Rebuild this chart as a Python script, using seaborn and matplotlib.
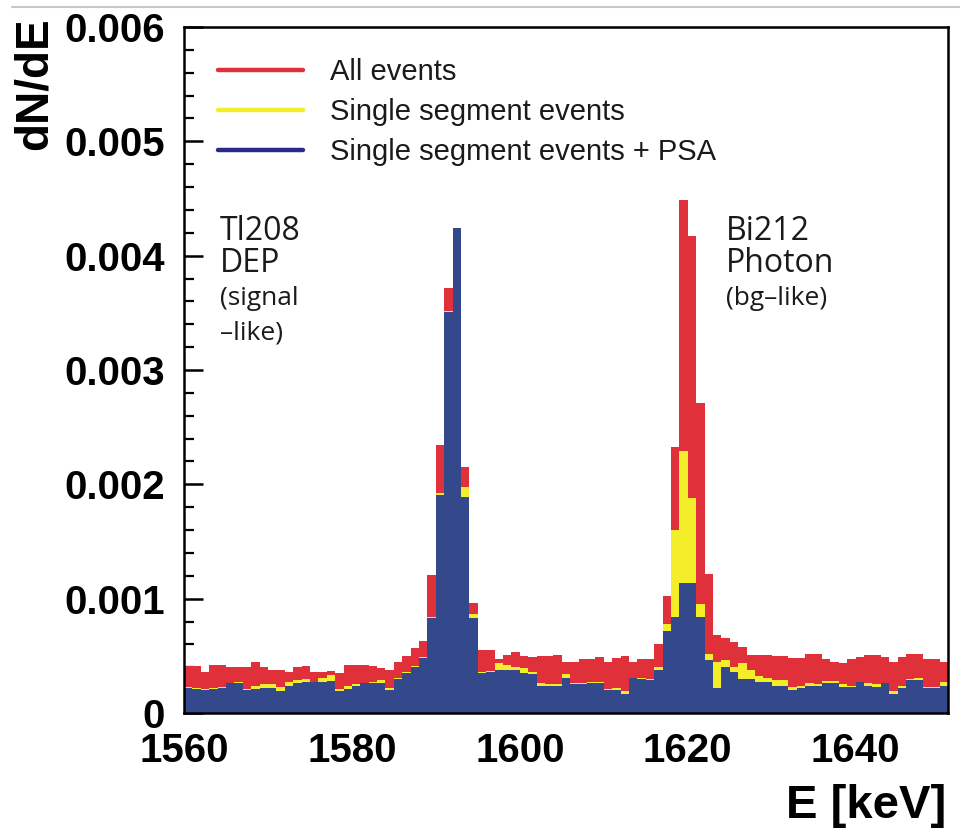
import numpy as np
import pandas as pd
import matplotlib
matplotlib.use("Agg")
import matplotlib.pyplot as plt
from matplotlib.lines import Line2D
from matplotlib.ticker import FixedLocator, MultipleLocator
import seaborn as sns

# Energy binning: 1 keV bins from 1560 to 1651 keV
bin_lo = 1560
bin_hi = 1651
energy = np.arange(bin_lo, bin_hi) + 0.5

# dN/dE per bin for the three event selections
all_events = [
    0.00041, 0.00041, 0.00036, 0.00042, 0.00042, 0.00040, 0.00040, 0.00040, 0.00045, 0.00040,
    0.00038, 0.00038, 0.00036, 0.00040, 0.00041, 0.00036, 0.00036, 0.00037, 0.00035, 0.00042,
    0.00042, 0.00042, 0.00041, 0.00039, 0.00038, 0.00045, 0.00050, 0.00057, 0.00063, 0.00121,
    0.00234, 0.00372, 0.00424, 0.00215, 0.00096, 0.00055, 0.00055, 0.00047, 0.00051, 0.00053,
    0.00050, 0.00049, 0.00050, 0.00050, 0.00051, 0.00045, 0.00045, 0.00047, 0.00047, 0.00049,
    0.00045, 0.00048, 0.00050, 0.00045, 0.00047, 0.00047, 0.00060, 0.00102, 0.00233, 0.00449,
    0.00417, 0.00271, 0.00122, 0.00068, 0.00066, 0.00062, 0.00058, 0.00051, 0.00051, 0.00051,
    0.00050, 0.00050, 0.00048, 0.00048, 0.00052, 0.00052, 0.00047, 0.00045, 0.00044, 0.00047,
    0.00049, 0.00051, 0.00051, 0.00049, 0.00045, 0.00049, 0.00052, 0.00052, 0.00047, 0.00047,
    0.00045,
]
single_segment = [
    0.00023, 0.00022, 0.00021, 0.00022, 0.00023, 0.00026, 0.00027, 0.00021, 0.00024, 0.00025,
    0.00025, 0.00023, 0.00027, 0.00029, 0.00030, 0.00027, 0.00031, 0.00033, 0.00021, 0.00024,
    0.00025, 0.00026, 0.00027, 0.00029, 0.00022, 0.00031, 0.00036, 0.00041, 0.00049, 0.00084,
    0.00192, 0.00352, 0.00424, 0.00198, 0.00087, 0.00036, 0.00037, 0.00044, 0.00042, 0.00040,
    0.00039, 0.00036, 0.00026, 0.00025, 0.00025, 0.00034, 0.00026, 0.00026, 0.00027, 0.00027,
    0.00021, 0.00022, 0.00019, 0.00031, 0.00031, 0.00030, 0.00040, 0.00078, 0.00160, 0.00229,
    0.00188, 0.00095, 0.00052, 0.00045, 0.00046, 0.00040, 0.00044, 0.00038, 0.00032, 0.00031,
    0.00029, 0.00029, 0.00023, 0.00024, 0.00026, 0.00025, 0.00028, 0.00028, 0.00025, 0.00024,
    0.00027, 0.00026, 0.00025, 0.00026, 0.00019, 0.00024, 0.00030, 0.00031, 0.00023, 0.00023,
    0.00027,
]
single_segment_psa = [
    0.00022, 0.00021, 0.00020, 0.00021, 0.00022, 0.00026, 0.00026, 0.00020, 0.00021, 0.00022,
    0.00022, 0.00019, 0.00024, 0.00026, 0.00027, 0.00027, 0.00027, 0.00028, 0.00019, 0.00021,
    0.00024, 0.00026, 0.00026, 0.00026, 0.00020, 0.00030, 0.00035, 0.00040, 0.00048, 0.00083,
    0.00191, 0.00351, 0.00424, 0.00189, 0.00083, 0.00035, 0.00036, 0.00038, 0.00038, 0.00038,
    0.00035, 0.00034, 0.00024, 0.00024, 0.00024, 0.00031, 0.00025, 0.00025, 0.00026, 0.00026,
    0.00020, 0.00020, 0.00017, 0.00031, 0.00030, 0.00029, 0.00038, 0.00072, 0.00084, 0.00114,
    0.00114, 0.00084, 0.00046, 0.00022, 0.00040, 0.00036, 0.00030, 0.00030, 0.00027, 0.00027,
    0.00024, 0.00024, 0.00020, 0.00022, 0.00024, 0.00024, 0.00026, 0.00026, 0.00023, 0.00023,
    0.00027, 0.00024, 0.00023, 0.00026, 0.00017, 0.00022, 0.00029, 0.00029, 0.00022, 0.00022,
    0.00024,
]

series_labels = ["All events", "Single segment events", "Single segment events + PSA"]
fill_colors = ["#e0313a", "#f4ee2a", "#34488c"]
legend_colors = ["#e0313a", "#f4ee2a", "#2a2a86"]

y_ticks = [0, 0.001, 0.002, 0.003, 0.004, 0.005, 0.006]
y_ticklabels = ["0", "0.001", "0.002", "0.003", "0.004", "0.005", "0.006"]
x_ticks = [1560, 1580, 1600, 1620, 1640]

df = pd.DataFrame({
    "E": energy,
    series_labels[0]: all_events,
    series_labels[1]: single_segment,
    series_labels[2]: single_segment_psa,
})

sns.set_theme(style="ticks")
plt.rcParams["font.family"] = ["Liberation Sans", "DejaVu Sans"]
plt.rcParams.update({
    "text.color": "black",
    "axes.labelcolor": "black",
    "xtick.color": "black",
    "ytick.color": "black",
    "axes.edgecolor": "black",
})

W, H = 960, 833
fig = plt.figure(figsize=(W / 100, H / 100), dpi=100)
ax = fig.add_axes([184 / W, 1 - 713 / H, (948 - 184) / W, (713 - 27) / H])

# filled step histograms, widest selection drawn first
for lab, col in zip(series_labels, fill_colors):
    sns.histplot(data=df, x="E", weights=lab, binwidth=1, binrange=(bin_lo, bin_hi),
                 element="step", fill=True, color=col, alpha=1.0, linewidth=0,
                 stat="count", ax=ax)

ax.set_xlim(bin_lo, bin_hi)
ax.set_ylim(0, 0.006)
ax.set_xlabel("")
ax.set_ylabel("")

ax.xaxis.set_major_locator(FixedLocator(x_ticks))
ax.set_xticklabels([str(t) for t in x_ticks])
ax.yaxis.set_major_locator(FixedLocator(y_ticks))
ax.set_yticklabels(y_ticklabels)
ax.yaxis.set_minor_locator(MultipleLocator(0.0002))

ax.tick_params(axis="x", which="both", length=0, pad=14, labelsize=29, labelcolor="black")
ax.tick_params(axis="y", which="major", direction="in", length=14, width=1.8,
               pad=14, labelsize=29, left=True, right=False, labelcolor="black")
ax.tick_params(axis="y", which="minor", direction="in", length=7, width=1.6,
               left=True, right=False)
for lbl in ax.get_xticklabels() + ax.get_yticklabels():
    lbl.set_fontweight("bold")
    lbl.set_color("black")

for sp in ax.spines.values():
    sp.set_visible(True)
    sp.set_color("black")
    sp.set_linewidth(1.8)
    sp.set_zorder(5)

# axis titles
fig.text(35 / W, 1 - 17 / H, "dN/dE", rotation=90, ha="center", va="top",
         fontsize=33, fontweight="bold", color="black")
fig.text(946 / W, 1 - 818 / H, "E [keV]", ha="right", va="baseline",
         fontsize=34, fontweight="bold", color="black")

# legend
handles = [Line2D([0], [0], color=c, lw=3.2) for c in legend_colors]
leg = ax.legend(handles, series_labels, loc="upper left",
                bbox_to_anchor=(218 / W, 1 - 58 / H), bbox_transform=fig.transFigure,
                frameon=False, fontsize=21, handlelength=2.9, handletextpad=0.95,
                labelspacing=0.42, borderpad=0, borderaxespad=0)
for t in leg.get_texts():
    t.set_color("#1a1a1a")

# peak annotations
anno_font = ["Open Sans", "DejaVu Sans"]
tc = "#1a1a1a"
ax.text(1564.3, 0.00414, "Tl208", fontsize=23, family=anno_font, va="baseline", color=tc)
ax.text(1564.3, 0.00386, "DEP", fontsize=23, family=anno_font, va="baseline", color=tc)
ax.text(1564.3, 0.00357, "(signal", fontsize=19, family=anno_font, va="baseline", color=tc)
ax.text(1564.3, 0.00327, "\u2013like)", fontsize=19, family=anno_font, va="baseline", color=tc)
ax.text(1624.6, 0.00414, "Bi212", fontsize=23, family=anno_font, va="baseline", color=tc)
ax.text(1624.6, 0.00386, "Photon", fontsize=23, family=anno_font, va="baseline", color=tc)
ax.text(1624.6, 0.00357, "(bg\u2013like)", fontsize=19, family=anno_font, va="baseline", color=tc)

# thin separator line along the top of the figure
fig.add_artist(Line2D([12 / W, 1.0], [1 - 7 / H, 1 - 7 / H], transform=fig.transFigure,
                      color="#c8c8c8", lw=1.5))

fig.savefig("out.png", dpi=100)
